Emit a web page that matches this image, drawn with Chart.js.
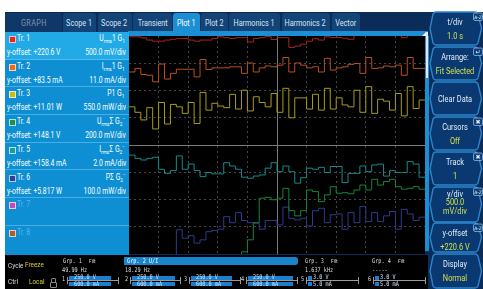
<!DOCTYPE html>
<html>
<head>
<meta charset="utf-8">
<title>GRAPH - Plot 1</title>
<script src="https://cdn.jsdelivr.net/npm/chart.js@4.4.1/dist/chart.umd.min.js"></script>
<style>
  html, body { margin: 0; padding: 0; background: #ffffff; }
  body { position: relative; width: 483px; height: 289px; overflow: hidden; font-family: Roboto, "Noto Sans", sans-serif; }
  .box { position: absolute; }
  .t { position: absolute; white-space: nowrap; transform: scaleX(0.8); transform-origin: left center; }
  .tr { position: absolute; white-space: nowrap; transform: scaleX(0.8); transform-origin: right center; }
  .tc { position: absolute; white-space: nowrap; transform: translateX(-50%) scaleX(0.82); }
  sub { font-size: 0.7em; vertical-align: -2px; line-height: 0; }
  sup { font-size: 0.5em; vertical-align: 4px; line-height: 0; letter-spacing: -0.5px; }

  #frame { left: 5px; top: 12px; width: 478px; height: 277px; background: #0b2c58; }
  .tab { position: absolute; top: 13px; height: 19px; background: #124478; color: #d9e4f0; font-size: 9.5px; line-height: 19px; text-align: center; border-radius: 3px 3px 0 0; overflow: visible; }
  .tab span { display: inline-block; transform: scaleX(0.76); white-space: nowrap; margin: 0 -20px; }
  #tabGraph { background: #0f3868; color: #8094ab; letter-spacing: 0.5px; }
  #tabPlot1 { background: #1b8fd3; color: #ffffff; height: 20px; }
  #plotBar { left: 128px; top: 31px; width: 300px; height: 5px; background: #1b8fd3; }

  #tracks { left: 5px; top: 32px; width: 123.5px; height: 223px; background: #0e8fd3; color: #ffffff; font-size: 8.5px; }
  .row { position: absolute; left: 0; width: 123.5px; height: 27.7px; border-bottom: 1px solid rgba(120, 200, 245, 0.55); box-sizing: border-box; }
  .row.sel { background: #21aae6; }
  .row .sq { position: absolute; left: 4px; top: 4px; width: 5px; height: 5px; border: 0.8px solid rgba(255,255,255,0.7); }
  .row .a { top: 1px; left: 12px; line-height: 11px; }
  .row .b { top: 1px; right: 4px; line-height: 11px; }
  .row .c { top: 15px; left: 1.5px; line-height: 11px; }
  .row .d { top: 15px; right: 2.5px; line-height: 11px; }
  .row.dim { color: #5cb6ea; }

  #plotWrap { left: 129px; top: 36px; width: 296px; height: 218px; background: #000000; }
  #scroll { left: 425px; top: 36px; width: 3.5px; height: 215px; background: #1b8fd3; }
  #thumb { left: 425.5px; top: 32px; width: 2.5px; height: 46px; background: #dce8f2; }

  #statusBar { left: 5px; top: 255px; width: 423px; height: 34px; background: #000000; color: #dcdcdc; }
  .mono { font-family: "DejaVu Sans Mono", "Liberation Mono", monospace; font-size: 6.5px; }
  .sm { font-size: 8px; }
  .yel { color: #d9cf3c; }
</style>
</head>
<body>
<div class="box" id="frame"></div>

<div class="tab" id="tabGraph" style="left:5px;width:57px;"><span>GRAPH</span></div>
<div class="tab" style="left:63px;width:33px;"><span>Scope 1</span></div>
<div class="tab" style="left:97.5px;width:34px;"><span>Scope 2</span></div>
<div class="tab" style="left:133px;width:38.5px;"><span>Transient</span></div>
<div class="tab" id="tabPlot1" style="left:173px;width:26.5px;"><span>Plot 1</span></div>
<div class="tab" style="left:201px;width:26.5px;"><span>Plot 2</span></div>
<div class="tab" style="left:229px;width:50.5px;"><span>Harmonics 1</span></div>
<div class="tab" style="left:281.5px;width:48px;"><span>Harmonics 2</span></div>
<div class="tab" style="left:331.5px;width:28px;"><span>Vector</span></div>
<div class="box" id="plotBar"></div>

<div class="box" id="tracks">
  <div class="row sel" style="top:0px;">
    <span class="sq" style="background:#e3271b;"></span>
    <span class="t a">Tr. 1</span><span class="tr b">U<sub>rms</sub>1 G<sub>1</sub></span>
    <span class="t c">y-offset: +220.6 V</span><span class="tr d">500.0 mV/div</span>
  </div>
  <div class="row" style="top:27.7px;">
    <span class="sq" style="background:#ee6a1c;"></span>
    <span class="t a">Tr. 2</span><span class="tr b">I<sub>rms</sub>1 G<sub>1</sub></span>
    <span class="t c">y-offset: +83.5 mA</span><span class="tr d">11.0 mA/div</span>
  </div>
  <div class="row" style="top:55.4px;">
    <span class="sq" style="background:#c9bb1a;"></span>
    <span class="t a">Tr. 3</span><span class="tr b">P1 G<sub>1</sub></span>
    <span class="t c">y-offset: +11.01 W</span><span class="tr d">550.0 mW/div</span>
  </div>
  <div class="row" style="top:83.1px;">
    <span class="sq" style="background:#17934a;"></span>
    <span class="t a">Tr. 4</span><span class="tr b">U<sub>rms</sub>&Sigma; G<sub>2</sub><sup>&middot;&middot;&middot;&middot;</sup></span>
    <span class="t c">y-offset: +148.1 V</span><span class="tr d">200.0 mV/div</span>
  </div>
  <div class="row" style="top:110.8px;">
    <span class="sq" style="background:#16a09c;"></span>
    <span class="t a">Tr. 5</span><span class="tr b">I<sub>rms</sub>&Sigma; G<sub>2</sub><sup>&middot;&middot;&middot;&middot;</sup></span>
    <span class="t c">y-offset: +158.4 mA</span><span class="tr d">2.0 mA/div</span>
  </div>
  <div class="row" style="top:138.5px;">
    <span class="sq" style="background:#2c3f9a;"></span>
    <span class="t a">Tr. 6</span><span class="tr b">P&Sigma; G<sub>2</sub><sup>&middot;&middot;&middot;&middot;</sup></span>
    <span class="t c">y-offset: +5.817 W</span><span class="tr d">100.0 mW/div</span>
  </div>
  <div class="row dim" style="top:166.2px;">
    <span class="sq" style="background:#c04cb4;"></span>
    <span class="t a">Tr. 7</span>
  </div>
  <div class="row dim" style="top:193.9px;border-bottom:none;">
    <span class="sq" style="background:#a8602c;"></span>
    <span class="t a">Tr. 8</span>
  </div>
</div>

<div class="box" id="plotWrap"><canvas id="plot" width="296" height="218"></canvas></div>
<div class="box" id="scroll"></div>
<div class="box" id="thumb"></div>
<svg class="box" style="left:421px;top:31px;" width="6" height="6"><polygon points="1,5 5,1 5,5" fill="#f0f4f8"/></svg>

<svg class="box" id="buttons" style="left:0;top:0;" width="483" height="289"></svg>
<div class="box" id="btnText" style="left:0;top:0;width:483px;height:289px;font-size:9px;"></div>

<div class="box" id="statusBar">
  <span class="t sm" style="left:3px;top:6px;">Cycle</span>
  <span class="t sm yel" style="left:20px;top:5px;">Freeze</span>
  <span class="t sm" style="left:3px;top:22px;">Ctrl</span>
  <span class="t sm yel" style="left:24px;top:22px;">Local</span>
  <div class="box" style="left:45px;top:27px;width:5px;height:4px;border:1px solid #8a8a8a;border-radius:1px;"></div>
  <div class="box" style="left:46px;top:23px;width:3px;height:4px;border:1px solid #8a8a8a;border-bottom:none;border-radius:2px 2px 0 0;"></div>

  <span class="t mono" style="left:58px;top:2px;">Grp. 1</span><span class="t" style="left:84px;top:2px;font-size:6px;">Filt</span>
  <span class="t mono" style="left:57px;top:11px;">49.99  Hz</span>

  <div class="box" style="left:119px;top:1.5px;width:174px;height:8px;background:#1a84cc;border-radius:0 3px 3px 0;"></div>
  <span class="t mono" style="left:122px;top:2px;color:#ffffff;">Grp. 2 U/I</span>
  <span class="t mono" style="left:120px;top:11px;">18.29  Hz</span>

  <span class="t mono" style="left:300px;top:2px;">Grp. 3</span><span class="t" style="left:326px;top:2px;font-size:6px;">Filt</span>
  <span class="t mono" style="left:300px;top:11px;">1.637 kHz</span>

  <span class="t mono" style="left:367px;top:2px;">Grp. 4</span><span class="t" style="left:393px;top:2px;font-size:6px;">Filt</span>
  <span class="t mono" style="left:367px;top:11px;">-----</span>
</div>

<script>
// time of each sample (s) - 1.0 s/div, 10 div on screen
var sampleTimes = [0, 0.2, 0.4, 0.6, 0.8, 1, 1.2, 1.4, 1.6, 1.8,
                   2, 2.2, 2.4, 2.6, 2.8, 3, 3.2, 3.4, 3.6, 3.8,
                   4, 4.2, 4.4, 4.6, 4.8, 5, 5.2, 5.4, 5.6, 5.8,
                   6, 6.2, 6.4, 6.6, 6.8, 7, 7.2, 7.4, 7.6, 7.8,
                   8, 8.2, 8.4, 8.6, 8.8, 9, 9.2, 9.4, 9.6, 9.8, 10];

// trace values in screen divisions (0 = centre line)
var tr1 = [3.97, 3.97, 3.93, 3.85, 3.81, 3.81, 3.85, 3.88, 3.91, 3.91,
           3.85, 3.81, 3.85, 3.85, 3.91, 3.97, 3.94, 3.91, 3.94, 3.94,
           3.78, 3.91, 3.94, 3.99, 3.87, 3.94, 3.94, 3.58, 3.63, 3.70,
           3.81, 3.90, 3.85, 3.97, 3.94, 3.94, 3.92, 3.88, 4.10, 4.30,
           4.30, 4.30, 4.30, 4.30, 4.30, 4.30, 3.94, 4.30, 4.30, 4.30, 4.30];
var tr2 = [2.68, 2.81, 2.59, 2.56, 2.32, 2.97, 2.42, 2.63, 2.78, 2.78,
           2.78, 2.50, 3.14, 2.77, 2.83, 2.83, 2.83, 2.87, 2.87, 2.63,
           3.01, 2.68, 2.83, 2.90, 2.87, 2.93, 3.21, 2.68, 3.01, 2.93,
           2.83, 2.87, 2.68, 3.18, 2.75, 2.83, 2.87, 2.96, 2.99, 2.63,
           3.21, 2.81, 2.83, 2.90, 2.87, 2.93, 2.56, 3.21, 2.81, 2.81, 2.81];
var tr3 = [1.40, 1.20, 0.92, 1.37, 0.59, 1.56, 0.77, 1.49, 1.40, 1.16,
           1.56, 0.79, 1.93, 1.28, 1.53, 1.43, 1.37, 1.86, 1.32, 2.01,
           1.25, 1.77, 1.56, 1.40, 1.89, 1.20, 2.08, 1.00, 1.73, 1.73,
           1.32, 1.86, 1.28, 2.08, 1.32, 1.73, 1.47, 1.40, 2.01, 1.20,
           2.14, 1.16, 1.68, 1.61, 1.28, 1.89, 1.07, 2.14, 1.34, 1.65, 1.65];
var tr4 = [-4.5, -4.5, -4.5, -4.5, -4.5, -4.5, -4.5, -4.5, -4.5, -4.5,
           -4.5, -4.5, -4.5, -4.5, -4.5, -4.5, -4.5, -4.5, -4.5, -3.92,
           -3.48, -2.85, -1.95, -1.92, -2.01, -1.95, -1.59, -2.41, -2.60, -2.41,
           -1.65, -1.71, -2.08, -1.83, -1.53, -1.77, -1.75, -1.79, -1.65, -1.47,
           -1.65, -1.26, -1.47, -1.34, -1.26, -1.53, -1.62, -1.59, -1.53, -1.62, -1.62];
var tr5 = [-0.37, -0.49, -0.55, -0.49, -0.45, -0.89, -1.04, -0.94, -0.40, -0.89,
           -0.70, -0.94, -1.16, -1.01, -1.06, -1.06, -0.65, -0.77, -0.89, -1.18,
           -1.22, -1.14, -1.10, -0.85, -0.65, -0.98, -0.77, -0.98, -1.40, -1.20,
           -0.85, -0.89, -0.82, -1.01, -0.79, -0.79, -1.38, -1.04, -1.04, -0.77,
           -0.98, -0.73, -0.70, -1.14, -0.94, -1.01, -1.01, -0.61, -0.70, -1.18, -1.18];
var tr6 = [-4.5, -4.5, -4.5, -4.5, -4.5, -4.5, -4.5, -4.5, -3.11, -3.42,
           -3.33, -3.60, -3.48, -3.18, -3.14, -3.09, -2.63, -2.85, -2.48, -2.77,
           -2.85, -2.87, -3.09, -2.77, -2.77, -2.93, -2.28, -2.69, -2.75, -2.69,
           -2.97, -2.41, -2.32, -2.85, -2.56, -2.53, -3.09, -2.48, -2.85, -2.26,
           -2.81, -2.48, -2.81, -2.60, -2.44, -3.09, -2.36, -2.53, -2.77, -2.65, -2.65];

var traceColors = ["#a82424", "#b8501f", "#a99b19", "#16853b", "#158b8b", "#2c3b8e"];
var traceData = [tr1, tr2, tr3, tr4, tr5, tr6];

function gridColor(centre, lo, hi) {
    return function (ctx) {
        var v = ctx.tick.value;
        if (v === lo || v === hi) return "rgba(0,0,0,0)";
        return v === centre ? "#7a7a7a" : "#474747";
    };
}
function gridDash(centre) {
    return function (ctx) {
        return ctx.tick && ctx.tick.value === centre ? [] : [2, 3];
    };
}

new Chart("plot", {
    type: "line",
    data: {
        labels: sampleTimes,
        datasets: traceData.map(function (d, i) {
            return {
                label: "Tr. " + (i + 1),
                data: d,
                borderColor: traceColors[i],
                borderWidth: 1,
                pointRadius: 0,
                stepped: "before",
                fill: false,
                clip: 0
            };
        })
    },
    options: {
        responsive: false,
        animation: false,
        events: [],
        layout: { padding: 0 },
        plugins: { legend: { display: false }, tooltip: { enabled: false } },
        scales: {
            x: {
                type: "linear", min: 0, max: 10,
                ticks: { display: false, stepSize: 1 },
                grid: { drawTicks: false, color: gridColor(5, 0, 10) },
                border: { display: false, dash: gridDash(5) }
            },
            y: {
                min: -4, max: 4,
                ticks: { display: false, stepSize: 1 },
                grid: { drawTicks: false, color: gridColor(0, -4, 4) },
                border: { display: false, dash: gridDash(0) }
            }
        }
    }
});

// right soft-key column
var buttons = [
    { top: 12, h: 33, label: "t/div", value: "1.0 s", icon: "A-Z" },
    { top: 47, h: 33, label: "Arrange:", value: "Fit Selected", icon: "\u21b5" },
    { top: 82, h: 33, label: "Clear Data", value: "" },
    { top: 117, h: 33, label: "Cursors", value: "Off", icon: "\u2716" },
    { top: 152, h: 33, label: "Track", value: "1", icon: "\u2716" },
    { top: 187, h: 35, label: "y/div", value: "500.0", value2: "mV/div", icon: "A-Z" },
    { top: 223, h: 29, label: "y-offset", value: "+220.6 V", icon: "A-Z" },
    { top: 254, h: 34, label: "Display", value: "Normal" }
];
var svg = document.getElementById("buttons");
var txt = document.getElementById("btnText");
var ns = "http://www.w3.org/2000/svg";
buttons.forEach(function (b) {
    var T = b.top, B = b.top + b.h, M = b.top + b.h / 2;
    var p = document.createElementNS(ns, "path");
    p.setAttribute("d", "M436," + T + " L475," + T + " Q477," + T + " 478," + (T + 2) +
        " L481.5," + M + " L478," + (B - 2) + " Q477," + B + " 475," + B +
        " L436," + B + " Q434," + B + " 433," + (B - 2) + " L430," + M + " L433," + (T + 2) +
        " Q434," + T + " 436," + T + " Z");
    p.setAttribute("fill", "#0a3870");
    p.setAttribute("stroke", "#2b85cd");
    p.setAttribute("stroke-width", "1.4");
    svg.appendChild(p);
    if (b.icon) {
        var r = document.createElementNS(ns, "rect");
        r.setAttribute("x", 473.5); r.setAttribute("y", T + 1);
        r.setAttribute("width", 9); r.setAttribute("height", 7.5);
        r.setAttribute("rx", 1.5);
        r.setAttribute("fill", "#0d3f7a"); r.setAttribute("stroke", "#9ec6ec"); r.setAttribute("stroke-width", "0.7");
        svg.appendChild(r);
        var it = document.createElementNS(ns, "text");
        it.setAttribute("x", 478); it.setAttribute("y", T + 6.8);
        it.setAttribute("text-anchor", "middle");
        it.setAttribute("font-size", b.icon === "A-Z" ? "4.5" : "6");
        it.setAttribute("font-family", "DejaVu Sans, sans-serif");
        it.setAttribute("fill", "#e8f0fa");
        it.textContent = b.icon;
        svg.appendChild(it);
    }
    function put(s, y, color) {
        var d = document.createElement("span");
        d.className = "tc";
        d.style.left = "455px";
        d.style.top = (y - 6) + "px";
        d.style.lineHeight = "12px";
        d.style.color = color;
        d.textContent = s;
        txt.appendChild(d);
    }
    if (!b.value) {
        put(b.label, M, "#e6eef8");
    } else if (b.value2) {
        put(b.label, T + 6.5, "#e6eef8");
        put(b.value, T + 15, "#d5e04c");
        put(b.value2, T + 23.5, "#d5e04c");
    } else {
        put(b.label, T + 9.5, "#e6eef8");
        put(b.value, T + 23.5, "#d5e04c");
    }
});

// channel range widgets in the status bar
var channels = [
    { n: "1", x: 57, barW: 42, end: 113, u: "250.0 V", i: "600.0 mA" },
    { n: "2", x: 120, barW: 43, end: 175, u: "250.0 V", i: "600.0 mA" },
    { n: "3", x: 179, barW: 41, end: 235, u: "250.0 V", i: "600.0 mA" },
    { n: "4", x: 236, barW: 45, end: 292, u: "250.0 V", i: "600.0 mA" },
    { n: "5", x: 296, barW: 4, end: 353, u: "3.0 V", i: "5.0 mA" },
    { n: "6", x: 363, barW: 4, end: 420, u: "3.0 V", i: "5.0 mA" }
];
var statusBar = document.getElementById("statusBar");
function el(css, text, cls) {
    var d = document.createElement(text === undefined ? "div" : "span");
    d.className = cls || "box";
    d.style.cssText = css;
    if (text !== undefined) d.textContent = text;
    statusBar.appendChild(d);
    return d;
}
channels.forEach(function (c) {
    el("left:" + c.x + "px;top:20px;", c.n, "t mono");
    el("left:" + (c.x + 5) + "px;top:25px;width:" + (c.end - c.x - 5) + "px;height:1px;background:#9a9a9a;");
    el("left:" + (c.x + 5) + "px;top:22px;width:1px;height:7px;background:#9a9a9a;");
    el("left:" + c.end + "px;top:22px;width:1px;height:7px;background:#9a9a9a;");
    el("left:" + (c.x + 7) + "px;top:20.5px;width:" + c.barW + "px;height:4px;background:#1b7fcf;");
    el("left:" + (c.x + 7) + "px;top:26.5px;width:" + c.barW + "px;height:4px;background:#1b7fcf;");
    el("left:" + (c.x + 12) + "px;top:19px;line-height:6px;color:#cfe3f7;", c.u, "t mono");
    el("left:" + (c.x + 12) + "px;top:25.5px;line-height:6px;color:#cfe3f7;", c.i, "t mono");
});
</script>
</body>
</html>
